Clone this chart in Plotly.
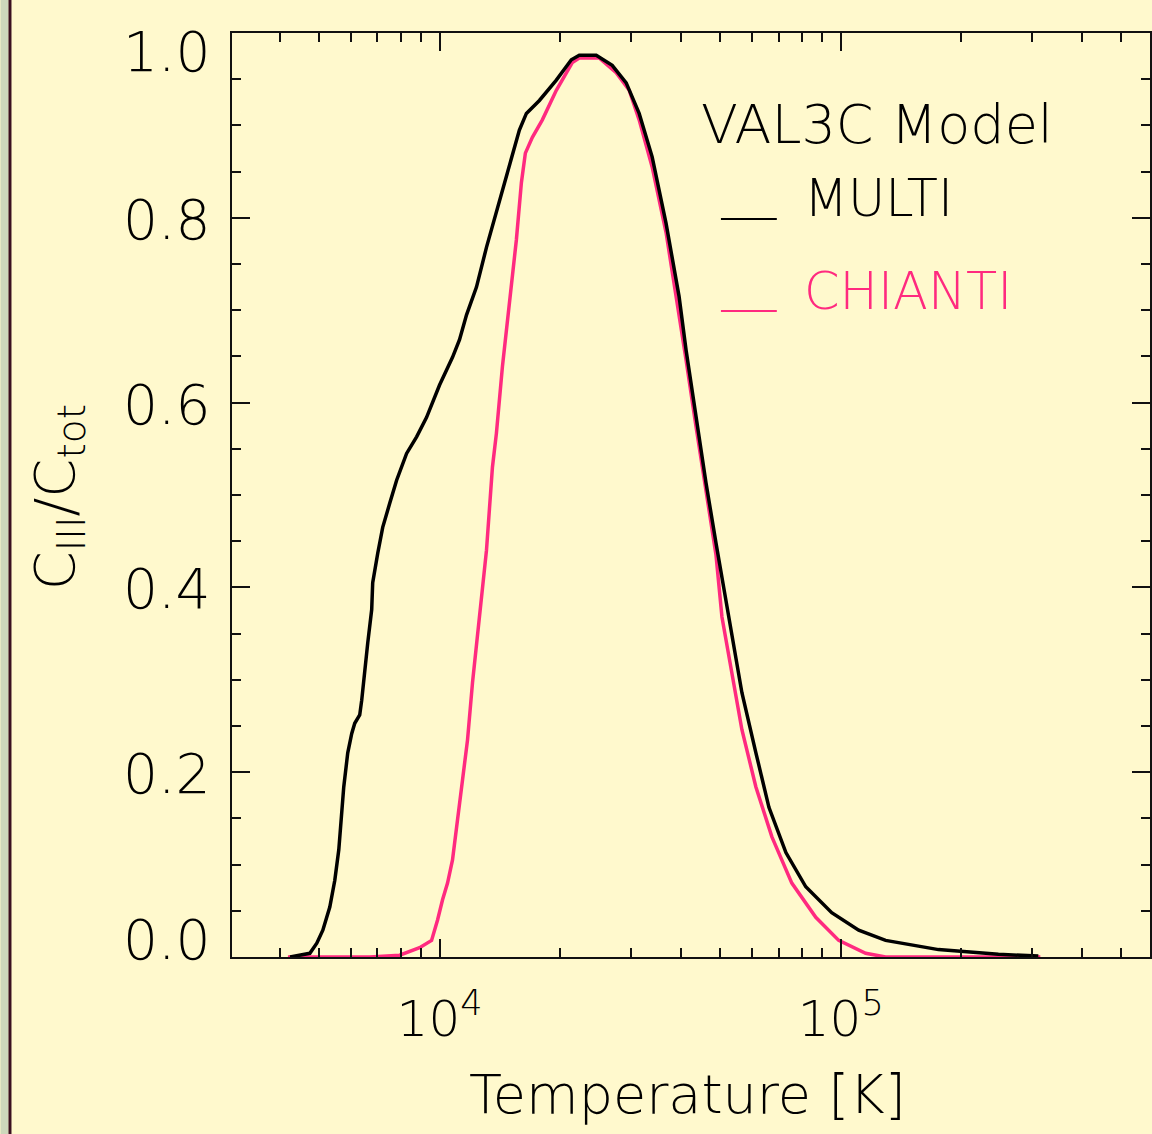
import plotly.graph_objects as go

# C III ionisation fraction vs temperature, VAL3C atmosphere
multi_T = [4240, 4750, 4943, 5117, 5326, 5481, 5608, 5704, 5770, 5904, 6041, 6146,
           6324, 6397, 6508, 6622, 6774, 6813, 7013, 7216, 7512, 7816, 8277, 8765,
           9283, 10000, 10772, 11214, 11675, 12360, 13090, 14103, 14933, 15812,
           16460, 17737, 19545, 21303, 22302, 24580, 26938, 29190, 31445, 33880,
           36700, 39540, 41160, 43590, 46160, 48880, 51750, 54170, 56720, 61460,
           66230, 73010, 81830, 94970, 110870, 129400, 175300, 247200, 310900]
multi_frac = [0.0, 0.004, 0.015, 0.029, 0.054, 0.083, 0.116, 0.152, 0.184, 0.221,
              0.242, 0.253, 0.262, 0.278, 0.314, 0.340, 0.376, 0.405, 0.437, 0.465,
              0.491, 0.516, 0.545, 0.563, 0.584, 0.619, 0.649, 0.668, 0.695, 0.725,
              0.768, 0.819, 0.857, 0.895, 0.913, 0.927, 0.949, 0.971, 0.976, 0.976,
              0.965, 0.946, 0.913, 0.866, 0.794, 0.715, 0.657, 0.584, 0.513, 0.448,
              0.386, 0.332, 0.286, 0.221, 0.162, 0.113, 0.076, 0.048, 0.029, 0.018,
              0.008, 0.003, 0.001]

chianti_T = [4188, 6697, 7952, 8917, 9552, 9886, 10173, 10469, 10772, 11085, 11407,
             11742, 12082, 12433, 12576, 13090, 13546, 13860, 14345, 14933, 15540,
             15995, 16365, 17036, 18040, 19545, 21420, 22302, 25000, 27560, 29700,
             31445, 33880, 36700, 39540, 41160, 43590, 46160, 48880, 50580, 56720,
             61460, 67370, 75530, 86660, 98860, 115400, 129400, 314500]
chianti_frac = [0.0, 0.0, 0.002, 0.010, 0.018, 0.040, 0.062, 0.080, 0.105, 0.148,
                0.188, 0.235, 0.297, 0.351, 0.372, 0.440, 0.530, 0.567, 0.639, 0.705,
                0.776, 0.838, 0.870, 0.887, 0.906, 0.938, 0.968, 0.973, 0.973, 0.957,
                0.938, 0.906, 0.855, 0.784, 0.697, 0.646, 0.574, 0.502, 0.435, 0.368,
                0.246, 0.184, 0.130, 0.080, 0.043, 0.018, 0.004, 0.0, 0.0]

x_tick_vals = [1e4, 1e5]
x_tick_text = ["10<sup>4</sup>", "10<sup>5</sup>"]
x_minor_vals = [m * 10 ** e for e in (3, 4, 5) for m in range(2, 10)]
y_tick_vals = [0.0, 0.2, 0.4, 0.6, 0.8, 1.0]
y_tick_text = ["0.0", "0.2", "0.4", "0.6", "0.8", "1.0"]

legend_title = "VAL3C Model"
series_names = ["MULTI", "CHIANTI"]
series_colors = ["#000000", "#ff2a7f"]

BG = "#fff9cd"
FONT = "DejaVu Sans"
WEIGHT = 200

fig = go.Figure()
fig.add_trace(go.Scatter(x=chianti_T, y=chianti_frac, mode="lines",
                         line=dict(color=series_colors[1], width=3.5), name=series_names[1]))
fig.add_trace(go.Scatter(x=multi_T, y=multi_frac, mode="lines",
                         line=dict(color=series_colors[0], width=3.5), name=series_names[0]))

axis_common = dict(showline=True, linecolor="#111111", linewidth=2, mirror="allticks",
                   ticks="inside", tickcolor="#111111", tickwidth=2, ticklen=18,
                   showgrid=False, zeroline=False)

fig.update_xaxes(type="log", range=[3.4826, 5.771], tickvals=x_tick_vals, ticktext=x_tick_text,
                 tickfont=dict(family=FONT, size=50, color="#000000", weight=WEIGHT),
                 ticklabelstandoff=17,
                 minor=dict(tickvals=x_minor_vals, ticks="inside", ticklen=9,
                            tickcolor="#111111", tickwidth=2, showgrid=False),
                 **axis_common)
fig.update_yaxes(range=[0, 1], tickvals=y_tick_vals, showticklabels=False,
                 minor=dict(dtick=0.05, ticks="inside", ticklen=9,
                            tickcolor="#111111", tickwidth=2, showgrid=False),
                 **axis_common)

annotations = []
# y tick labels; the end labels sit inside the axis span
for v, t in zip(y_tick_vals, y_tick_text):
    shift = -19 if v == 1.0 else (17 if v == 0.0 else -2)
    annotations.append(dict(x=0, xref="paper", y=v, yref="y", text=t, showarrow=False,
                            xanchor="right", yanchor="middle", xshift=-20, yshift=shift,
                            font=dict(family=FONT, size=55, color="#000000", weight=WEIGHT)))

annotations.append(dict(x=0.4957, xref="paper", y=-0.149, yref="paper",
                        text="Temperature [K]", showarrow=False,
                        xanchor="center", yanchor="middle",
                        font=dict(family=FONT, size=54, color="#000000", weight=WEIGHT)))
annotations.append(dict(x=-0.189, xref="paper", y=0.498, yref="paper",
                        text="C<sub>III</sub>/C<sub>tot</sub>", textangle=-90, showarrow=False,
                        xanchor="center", yanchor="middle",
                        font=dict(family=FONT, size=56, color="#000000", weight=WEIGHT)))

# hand-placed legend block
annotations.append(dict(x=(700 - 232) / 920, xref="paper", y=(957 - 125) / 924, yref="paper",
                        text=legend_title, showarrow=False, xanchor="left", yanchor="middle",
                        font=dict(family=FONT, size=54, color="#000000", weight=WEIGHT)))
legend_rows = [(957 - 199) / 924, (957 - 291) / 924]
line_rows = [(957 - 219) / 924, (957 - 311) / 924]
shapes = []
for name, col, ty, ly in zip(series_names, series_colors, legend_rows, line_rows):
    annotations.append(dict(x=(803 - 232) / 920, xref="paper", y=ty, yref="paper",
                            text=name, showarrow=False, xanchor="left", yanchor="middle",
                            font=dict(family=FONT, size=51, color=col, weight=WEIGHT)))
    shapes.append(dict(type="line", xref="paper", yref="paper",
                       x0=(722 - 232) / 920, x1=(778 - 232) / 920, y0=ly, y1=ly,
                       line=dict(color=col, width=2)))

# window frame strip on the left edge
shapes.append(dict(type="rect", xref="paper", yref="paper", x0=-232 / 920, x1=-224 / 920,
                   y0=-177 / 924, y1=1 + 33 / 924, fillcolor="#cdd8bb", line=dict(width=0),
                   layer="below"))
shapes.append(dict(type="rect", xref="paper", yref="paper", x0=-224 / 920, x1=-221 / 920,
                   y0=-177 / 924, y1=1 + 33 / 924, fillcolor="#3a1020", line=dict(width=0),
                   layer="below"))

fig.update_layout(width=1152, height=1134, margin=dict(l=232, r=0, t=33, b=177),
                  paper_bgcolor=BG, plot_bgcolor=BG, showlegend=False,
                  annotations=annotations, shapes=shapes)

fig.write_html("out.html")
